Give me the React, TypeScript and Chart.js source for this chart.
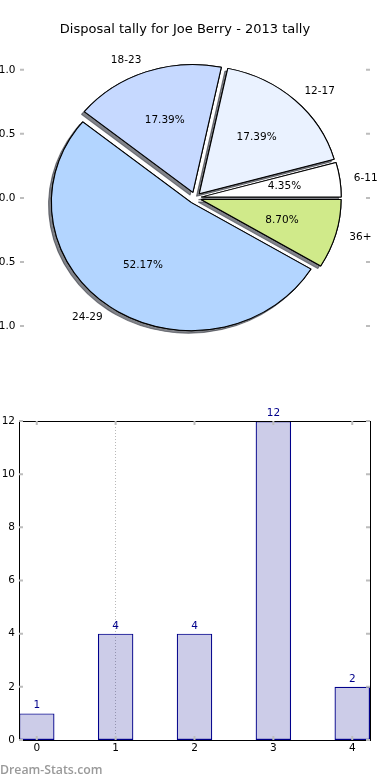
import React, { useEffect, useRef } from 'react';
import { Chart, registerables } from 'chart.js';

Chart.register(...registerables);

// ---------- data ----------
const TITLE = 'Disposal tally for Joe Berry - 2013 tally';
const pieLabels = ['6-11', '12-17', '18-23', '24-29', '36+'];
const pieValues = [1, 4, 4, 12, 2];
const pieColors = ['#ffffff', '#eaf2ff', '#c6d9ff', '#b3d5ff', '#d0ea8a'];
const pieYTicks = [-1, -0.5, 0, 0.5, 1];

const barX = [0, 1, 2, 3, 4];
const barValues = [1, 4, 4, 12, 2];
const barYTicks = [0, 2, 4, 6, 8, 10, 12];
const gridXValues = [1];
const WATERMARK = 'Dream-Stats.com';

// ---------- style ----------
const FONT = '"DejaVu Sans", sans-serif';
const FS = 10.5;
const EXPLODE = 0.045;
const LABEL_DIST = 1.1;
const PCT_DIST = 0.6;
const SX = 140 / 128;
const TICK_COLOR = '#bdbdbd';

const innerTicks = {
  id: 'innerTicks',
  afterDraw(chart: any, _args: any, opts: any) {
    const ctx = chart.ctx;
    const area = chart.chartArea;
    ctx.save();
    ctx.strokeStyle = TICK_COLOR;
    ctx.lineWidth = 2;
    const len = 4;
    Object.values(chart.scales).forEach((scale: any) => {
      if (!scale.ticks) return;
      scale.ticks.forEach((_t: any, i: number) => {
        const p = scale.getPixelForTick(i);
        ctx.beginPath();
        if (scale.isHorizontal()) {
          if (opts.horizontal) {
            ctx.moveTo(p, area.bottom); ctx.lineTo(p, area.bottom - len);
            ctx.moveTo(p, area.top); ctx.lineTo(p, area.top + len);
          }
        } else {
          ctx.moveTo(area.left, p); ctx.lineTo(area.left + len, p);
          ctx.moveTo(area.right, p); ctx.lineTo(area.right - len, p);
        }
        ctx.stroke();
      });
    });
    ctx.restore();
  },
};

const piePlugin = {
  id: 'mplPie',
  beforeDatasetsDraw(chart: any) {
    const ctx = chart.ctx;
    const meta = chart.getDatasetMeta(0);
    const arcs = meta.data;
    const ds = chart.data.datasets[0];
    const total = ds.data.reduce((a: number, b: number) => a + b, 0);
    [0, 1].forEach((pass) => {
      arcs.forEach((arc: any) => {
        const { x, y, startAngle, endAngle, outerRadius } = arc;
        const mid = (startAngle + endAngle) / 2;
        const off = EXPLODE * outerRadius;
        ctx.save();
        ctx.translate(x, y);
        ctx.scale(SX, 1);
        ctx.translate(-x, -y);
        ctx.translate(Math.cos(mid) * off, Math.sin(mid) * off);
        if (pass === 0) {
          ctx.shadowColor = 'rgba(45,48,58,0.6)';
          ctx.shadowOffsetX = -2.8;
          ctx.shadowOffsetY = 2.6;
          ctx.shadowBlur = 0;
        }
        arc.draw(ctx);
        ctx.restore();
      });
    });
    ctx.save();
    ctx.font = `${FS}px ${FONT}`;
    ctx.fillStyle = '#000';
    ctx.textBaseline = 'middle';
    arcs.forEach((arc: any, i: number) => {
      const { x, y, startAngle, endAngle, outerRadius: r } = arc;
      const mid = (startAngle + endAngle) / 2;
      const c = Math.cos(mid);
      const s = Math.sin(mid);
      const ld = (EXPLODE + LABEL_DIST) * r;
      ctx.textAlign = c > 0 ? 'left' : 'right';
      ctx.fillText(String(chart.data.labels[i]), x + SX * c * ld, y + s * ld);
      const pd = (EXPLODE + PCT_DIST) * r;
      ctx.textAlign = 'center';
      ctx.fillText(((ds.data[i] / total) * 100).toFixed(2) + '%', x + SX * c * pd, y + s * pd);
    });
    ctx.restore();
    return false;
  },
};

const barPlugin = {
  id: 'barDecor',
  afterDatasetsDraw(chart: any) {
    const ctx = chart.ctx;
    const meta = chart.getDatasetMeta(0);
    const ds = chart.data.datasets[0];
    ctx.save();
    ctx.font = `${FS}px ${FONT}`;
    ctx.fillStyle = '#00008b';
    ctx.textAlign = 'center';
    ctx.textBaseline = 'alphabetic';
    meta.data.forEach((bar: any, i: number) => {
      ctx.fillText(String(ds.data[i].y), bar.x, bar.y - 5);
    });
    ctx.restore();
  },
  afterDraw(chart: any) {
    const ctx = chart.ctx;
    const a = chart.chartArea;
    ctx.save();
    ctx.strokeStyle = '#000';
    ctx.lineWidth = 1;
    const l = Math.round(a.left) + 0.5;
    const t = Math.round(a.top) + 0.5;
    const r = Math.round(a.right) + 0.5;
    const b = Math.round(a.bottom) + 0.5;
    ctx.strokeRect(l, t, r - l, b - t);
    ctx.restore();
  },
};

export default function App() {
  const pieRef = useRef<HTMLCanvasElement | null>(null);
  const barRef = useRef<HTMLCanvasElement | null>(null);

  useEffect(() => {
    Chart.defaults.font.family = FONT;
    const order = pieLabels.map((_, i) => i).reverse();
    const pie = new Chart(pieRef.current as HTMLCanvasElement, {
      type: 'pie',
      data: {
        labels: order.map((i) => pieLabels[i]),
        datasets: [
          {
            data: order.map((i) => pieValues[i]),
            backgroundColor: order.map((i) => pieColors[i]),
            borderColor: '#000',
            borderWidth: 1,
          },
        ],
      },
      options: {
        animation: false,
        responsive: false,
        rotation: 90,
        radius: 128,
        layout: { padding: { left: 0, right: 20, top: 0, bottom: 22 } },
        plugins: {
          legend: { display: false },
          tooltip: { enabled: false },
          title: {
            display: true,
            text: TITLE,
            color: '#000',
            font: { family: FONT, size: 13, weight: 'normal' },
            padding: { top: 22.2, bottom: 0 },
          },
          innerTicks: { horizontal: false },
        },
        scales: {
          y: {
            type: 'linear',
            position: 'left',
            min: -1.25,
            max: 1.25,
            afterBuildTicks: (s: any) => {
              s.ticks = pieYTicks.map((v) => ({ value: v }));
            },
            afterFit: (s: any) => {
              s.width = 20;
            },
            ticks: {
              color: '#000',
              font: { family: FONT, size: FS },
              padding: 4.5,
              callback: (v: any) => Number(v).toFixed(1),
            },
            grid: { display: false, drawTicks: false },
            border: { display: false },
          },
        },
      } as any,
      plugins: [piePlugin, innerTicks],
    });

    const bar = new Chart(barRef.current as HTMLCanvasElement, {
      type: 'bar',
      data: {
        datasets: [
          {
            data: barX.map((x, i) => ({ x, y: barValues[i] })),
            backgroundColor: 'rgba(0,0,139,0.2)',
            borderColor: '#00008b',
            borderWidth: 1.2,
            borderSkipped: false,
            categoryPercentage: 1,
            barPercentage: 0.45,
          },
        ],
      },
      options: {
        animation: false,
        responsive: false,
        layout: { padding: { left: 0, right: 20, top: 41, bottom: 0 } },
        plugins: {
          legend: { display: false },
          tooltip: { enabled: false },
          innerTicks: { horizontal: true },
        },
        scales: {
          x: {
            type: 'linear',
            min: -0.225,
            max: 4.225,
            offset: false,
            afterBuildTicks: (s: any) => {
              s.ticks = barX.map((v) => ({ value: v }));
            },
            afterFit: (s: any) => {
              s.height = 40;
            },
            ticks: {
              color: '#000',
              font: { family: FONT, size: FS },
              padding: 2,
              callback: (v: any) => String(v),
            },
            grid: {
              offset: false,
              drawTicks: false,
              lineWidth: 1,
              color: (c: any) =>
                c.tick && gridXValues.includes(c.tick.value) ? '#b8b8b8' : 'rgba(0,0,0,0)',
            },
            border: { display: false, dash: [1, 2] },
          },
          y: {
            type: 'linear',
            min: 0,
            max: 12,
            afterBuildTicks: (s: any) => {
              s.ticks = barYTicks.map((v) => ({ value: v }));
            },
            afterFit: (s: any) => {
              s.width = 19;
            },
            ticks: {
              color: '#000',
              font: { family: FONT, size: FS },
              padding: 4,
            },
            grid: { display: false, drawTicks: false },
            border: { display: false },
          },
        },
      } as any,
      plugins: [barPlugin, innerTicks],
    });

    return () => {
      pie.destroy();
      bar.destroy();
    };
  }, []);

  return (
    <div
      style={{
        position: 'absolute',
        left: 0,
        top: 0,
        width: 390,
        height: 780,
        background: '#fff',
        overflow: 'hidden',
      }}
    >
      <canvas
        ref={pieRef}
        width={390}
        height={380}
        style={{ position: 'absolute', left: 0, top: 0, width: 390, height: 380 }}
      />
      <canvas
        ref={barRef}
        width={390}
        height={400}
        style={{ position: 'absolute', left: 0, top: 380, width: 390, height: 400 }}
      />
      <div
        style={{
          position: 'absolute',
          left: 0,
          top: 761,
          fontFamily: '"Open Sans", sans-serif',
          fontWeight: 600,
          fontSize: 12.3,
          lineHeight: '18px',
          color: '#999',
          whiteSpace: 'nowrap',
        }}
      >
        {WATERMARK}
      </div>
    </div>
  );
}
